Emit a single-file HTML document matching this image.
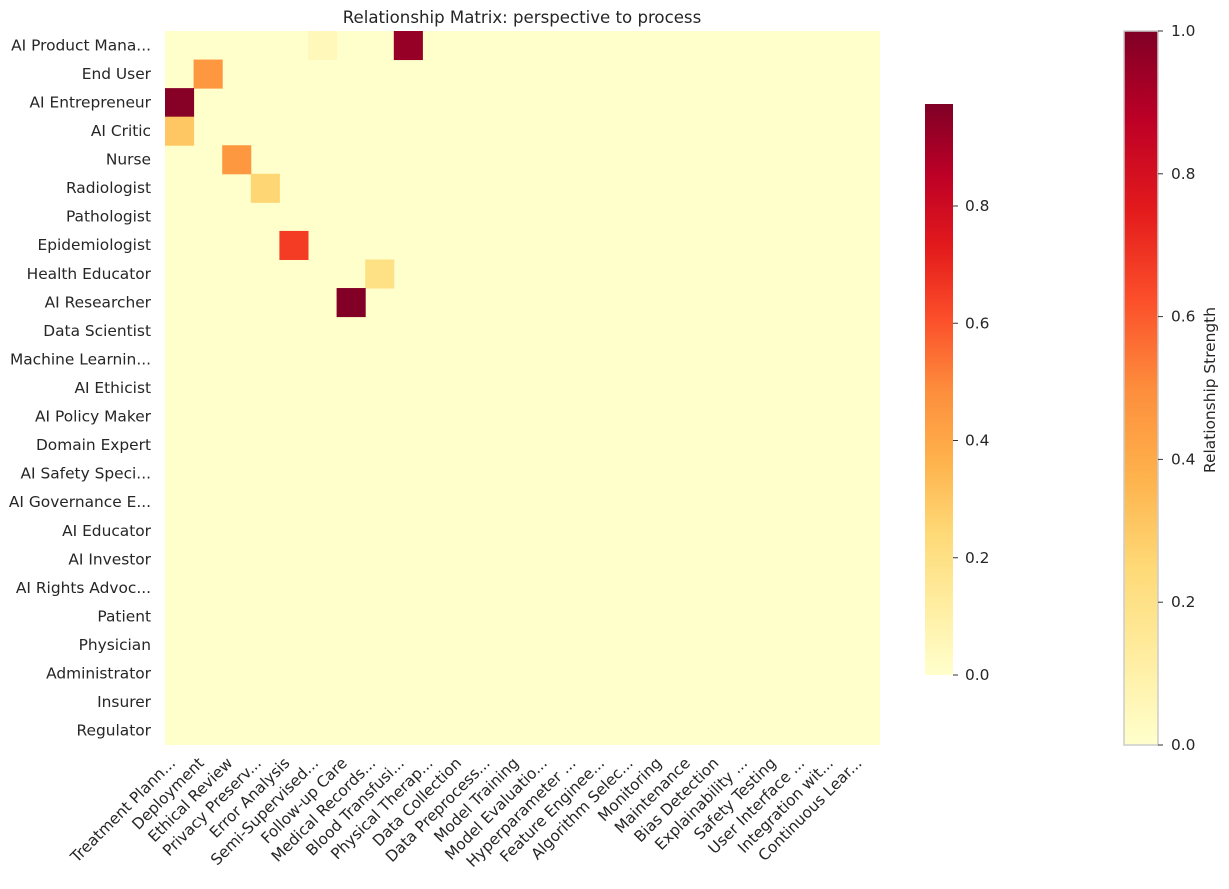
<!DOCTYPE html>
<html><head><meta charset="utf-8"><style>
body{margin:0;background:#fff;}
svg text{font-family:"DejaVu Sans","Liberation Sans",sans-serif;fill:#262626;}
</style></head><body>
<svg id="chart" width="1229" height="884" xmlns="http://www.w3.org/2000/svg">
<defs>
<linearGradient id="ylorrd" x1="0" y1="1" x2="0" y2="0">
<stop offset="0" stop-color="#ffffcc"/><stop offset="0.125" stop-color="#ffeda0"/><stop offset="0.25" stop-color="#fed976"/><stop offset="0.375" stop-color="#feb24c"/><stop offset="0.5" stop-color="#fd8d3c"/><stop offset="0.625" stop-color="#fc4e2a"/><stop offset="0.75" stop-color="#e31a1c"/><stop offset="0.875" stop-color="#bd0026"/><stop offset="1" stop-color="#800026"/>
</linearGradient>
</defs>
<text x="522" y="23" font-size="16.6" text-anchor="middle">Relationship Matrix: perspective to process</text>
<g id="cells"></g><g id="ylabels"></g><g id="xlabels"></g>
<g id="cb1"></g><g id="cb2"></g>
</svg>
<script>
const rows=["AI Product Mana...","End User","AI Entrepreneur","AI Critic","Nurse","Radiologist","Pathologist","Epidemiologist","Health Educator","AI Researcher","Data Scientist","Machine Learnin...","AI Ethicist","AI Policy Maker","Domain Expert","AI Safety Speci...","AI Governance E...","AI Educator","AI Investor","AI Rights Advoc...","Patient","Physician","Administrator","Insurer","Regulator"];
const cols=["Treatment Plann...","Deployment","Ethical Review","Privacy Preserv...","Error Analysis","Semi-Supervised...","Follow-up Care","Medical Records...","Blood Transfusi...","Physical Therap...","Data Collection","Data Preprocess...","Model Training","Model Evaluatio...","Hyperparameter ...","Feature Enginee...","Algorithm Selec...","Monitoring","Maintenance","Bias Detection","Explainability ...","Safety Testing","User Interface ...","Integration wit...","Continuous Lear..."];
const cellRow=[0,0,1,2,3,4,5,7,8,9];
const cellCol=[5,8,1,0,0,2,3,4,7,6];
const cellVal=[0.05,0.93,0.45,0.96,0.3,0.45,0.25,0.65,0.2,0.97];
const cb1Ticks=[0,0.2,0.4,0.6,0.8];
const cb2Ticks=[0,0.2,0.4,0.6,0.8,1.0];
const stops=["#ffffcc","#ffeda0","#fed976","#feb24c","#fd8d3c","#fc4e2a","#e31a1c","#bd0026","#800026"];
function hex(h){return [1,3,5].map(i=>parseInt(h.substr(i,2),16));}
function color(v){v=Math.max(0,Math.min(1,v));const p=v*8,i=Math.min(7,Math.floor(p)),f=p-i;const a=hex(stops[i]),b=hex(stops[i+1]);return "rgb("+a.map((c,k)=>Math.round(c+(b[k]-c)*f)).join(",")+")";}
const NS="http://www.w3.org/2000/svg";
function mk(t,at,parent){const e=document.createElementNS(NS,t);for(const k in at)e.setAttribute(k,at[k]);parent.appendChild(e);return e;}
const X0=165,Y0=31,W=715,H=714,cw=W/cols.length,ch=H/rows.length;
const vmax=0.974;
const FS=15.4;
const xS=i=>X0+i*cw, yS=i=>Y0+i*ch;
const g=document.getElementById('cells');
const bg=mk('rect',{x:X0,y:Y0,width:W,height:H,fill:color(0)},g);


cellVal.forEach((v,k)=>{const r=mk('rect',{x:xS(cellCol[k]),y:yS(cellRow[k]),width:cw+0.5,height:ch+0.5,fill:color(v/vmax)},g);

});
const yl=document.getElementById('ylabels');
rows.forEach((r,i)=>{const t=mk('text',{x:X0-14,y:yS(i)+ch/2+5,'font-size':FS,'text-anchor':'end'},yl);t.textContent=r;

});
const xl=document.getElementById('xlabels');
cols.forEach((c,i)=>{const x=xS(i)+cw/2-3,y=Y0+H+19;const t=mk('text',{x:x,y:y,'font-size':FS,'text-anchor':'end',transform:`rotate(-45 ${x} ${y})`},xl);t.textContent=c;

});
const c1=document.getElementById('cb1');const b1y0=675,b1y1=104,b1x=925,b1w=28;
const r1=mk('rect',{x:b1x,y:b1y1,width:b1w,height:b1y0-b1y1,fill:'url(#ylorrd)'},c1);


const s1=v=>b1y0-v/vmax*(b1y0-b1y1);
cb1Ticks.forEach(v=>{mk('line',{x1:b1x+b1w,x2:b1x+b1w+5,y1:s1(v),y2:s1(v),stroke:'#333'},c1);const t=mk('text',{x:b1x+b1w+12,y:s1(v)+5,'font-size':FS},c1);t.textContent=v.toFixed(1);

});
const c2=document.getElementById('cb2');const b2y0=745,b2y1=31,b2x=1124,b2w=34;
const r2=mk('rect',{x:b2x,y:b2y1,width:b2w,height:b2y0-b2y1,fill:'url(#ylorrd)',stroke:'#ccc','stroke-width':1.5},c2);


const s2=v=>b2y0-v*(b2y0-b2y1);
cb2Ticks.forEach(v=>{mk('line',{x1:b2x+b2w,x2:b2x+b2w+5,y1:s2(v),y2:s2(v),stroke:'#333'},c2);const t=mk('text',{x:b2x+b2w+13,y:s2(v)+5,'font-size':FS},c2);t.textContent=v.toFixed(1);

});
const lt=mk('text',{x:1215,y:390,'font-size':FS,'text-anchor':'middle',transform:'rotate(-90 1215 390)'},c2);lt.textContent='Relationship Strength';


</script>
</body></html>
